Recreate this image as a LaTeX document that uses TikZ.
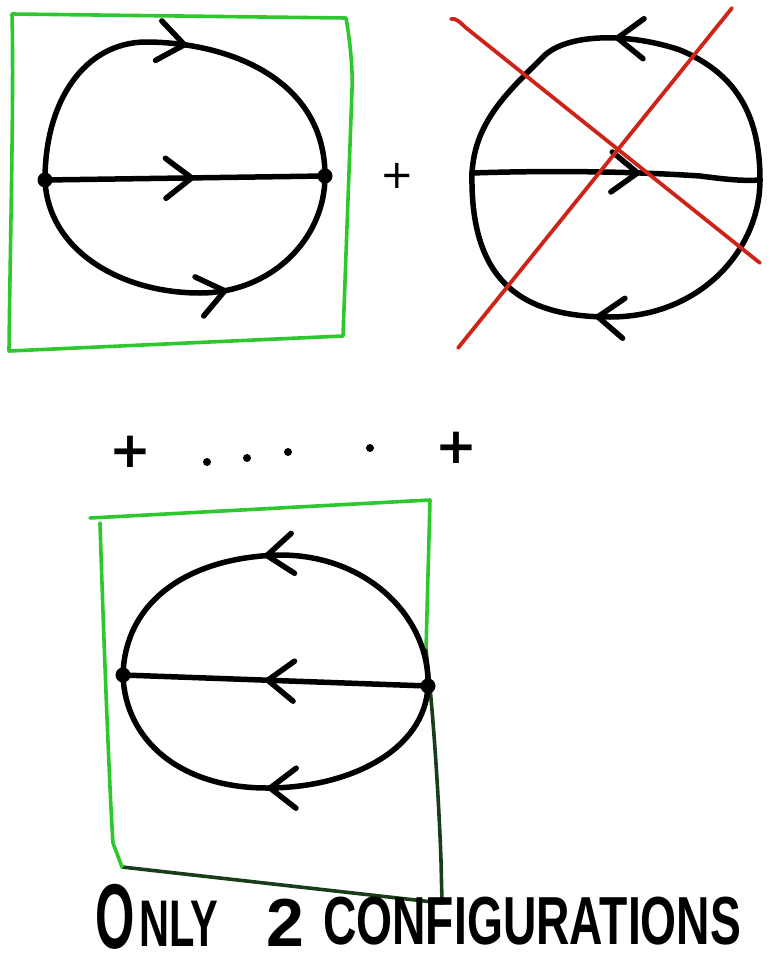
\documentclass[tikz,border=0pt]{standalone}
\usepackage{fontspec}
\setmainfont{Liberation Sans}
\newfontfamily\plusfont{DejaVu Sans}
\usetikzlibrary{arrows.meta,decorations.markings}
\definecolor{boxgreen}{RGB}{45,200,45}
\definecolor{boxdark}{RGB}{25,60,25}
\definecolor{crossred}{RGB}{205,35,25}
\tikzset{
  edge/.style={line width=5.5pt, line cap=round, line join=round, black},
  chev/.style={postaction={decorate}, decoration={markings, mark=at position #1 with {\arrow{Straight Barb[length=26pt,width=40pt,line cap=round]}}}},
  frame/.style={line width=3.6pt, line cap=round, line join=round, boxgreen},
  framedark/.style={line width=3.6pt, line cap=round, line join=round, boxdark},
  cross/.style={line width=3.8pt, line cap=round, crossred},
  vertex/.style={black},
  plussign/.style={inner sep=0pt, font=\plusfont\bfseries\fontsize{50}{50}\selectfont},
  smallplus/.style={inner sep=0pt, font=\plusfont\fontsize{40}{40}\selectfont},
  hand/.style={inner sep=0pt, anchor=base west},
}
\begin{document}
\begin{tikzpicture}[x=1pt,y=-1pt]
\useasboundingbox (0,0) rectangle (773,961);

% ---------- diagram 1 (kept) ----------
\coordinate (B1a) at (12,14);
\coordinate (B1b) at (346,18);
\coordinate (B1c) at (343,336);
\coordinate (B1d) at (9,351);
\draw[frame] (B1a) -- (B1b) .. controls (350,40) and (353,70) .. (352,90) -- (B1c) -- (B1d) .. controls (10,250) and (14,100) .. (B1a);

\coordinate (L1) at (45,180);
\coordinate (R1) at (325,176);
\draw[edge, chev=0.53] (L1) .. controls (45,100) and (85,43) .. (145,42) .. controls (230,42) and (325,80) .. (R1);
\draw[edge, chev=0.54] (L1) -- (R1);
\draw[edge, chev=0.60] (L1) .. controls (48,250) and (120,293) .. (200,293) .. controls (270,293) and (325,240) .. (R1);
\fill[vertex] (L1) circle (7.5);
\fill[vertex] (R1) circle (7.5);

\node[smallplus] (p0) at (397,176) {+};

% ---------- diagram 2 (crossed out) ----------
\coordinate (L2) at (472,173);
\coordinate (R2) at (760,180);
\draw[edge, chev=0.52] (R2) .. controls (760,120) and (740,75) .. (680,50) .. controls (630,33) and (570,33) .. (545,55) .. controls (510,90) and (475,120) .. (L2);
\draw[edge, chev=0.59] (L2) .. controls (560,170) and (640,172) .. (700,176) .. controls (730,180) and (745,181) .. (R2);
\draw[edge, chev=0.53] (R2) .. controls (760,250) and (700,317) .. (610,317) .. controls (520,317) and (470,280) .. (L2);

\coordinate (XA1) at (451,19);
\coordinate (XA2) at (760,263);
\coordinate (XB1) at (732,8);
\coordinate (XB2) at (458,348);
\draw[cross] (XA1) .. controls (456,18) and (460,22) .. (465,27) -- (XA2);
\draw[cross] (XB1) -- (XB2);

% ---------- + . . . . + ----------
\node[plussign] (p1) at (130,452) {+};
\node[plussign] (p2) at (456,448) {+};
\fill (207,462) circle (4);
\fill (247,458) circle (4);
\fill (288,452) circle (4);
\fill (370,448) circle (4);

% ---------- diagram 3 (kept) ----------
\coordinate (B3a) at (90,518);
\coordinate (B3b) at (430,500);
\coordinate (B3m) at (426,650);
\coordinate (B3c) at (442,903);
\coordinate (B3d) at (122,867);
\coordinate (B3e) at (100,523);
\draw[frame] (B3a) -- (B3b) -- (B3m);
\draw[framedark] (B3m) .. controls (432,700) and (438,780) .. (441,860) -- (B3c) -- (B3d);
\draw[frame] (B3e) .. controls (104,650) and (110,800) .. (113,843) -- (B3d);

\coordinate (L3) at (123,675);
\coordinate (R3) at (428,686);
\draw[edge, chev=0.54] (R3) .. controls (430,620) and (370,555) .. (280,555) .. controls (190,557) and (125,600) .. (L3);
\draw[edge, chev=0.54] (R3) -- (L3);
\draw[edge, chev=0.51] (R3) .. controls (425,750) and (350,788) .. (267,788) .. controls (180,788) and (125,740) .. (L3);
\fill[vertex] (L3) circle (7.5);
\fill[vertex] (R3) circle (7.5);

% ---------- caption ----------
\node[hand] (tO) at (95,948) {\scalebox{0.55}[1]{\fontsize{92}{92}\selectfont\bfseries O}};
\node[hand] (tN) at (139,946) {\scalebox{0.63}[1]{\fontsize{66}{66}\selectfont\bfseries NLY}};
\node[hand] (t2) at (266,946) {\fontsize{68}{68}\selectfont\bfseries 2};
\node[hand] (tC) at (323,944) {\scalebox{0.68}[1]{\fontsize{68}{68}\selectfont\bfseries CONFIGURATIONS}};
\end{tikzpicture}
\end{document}
